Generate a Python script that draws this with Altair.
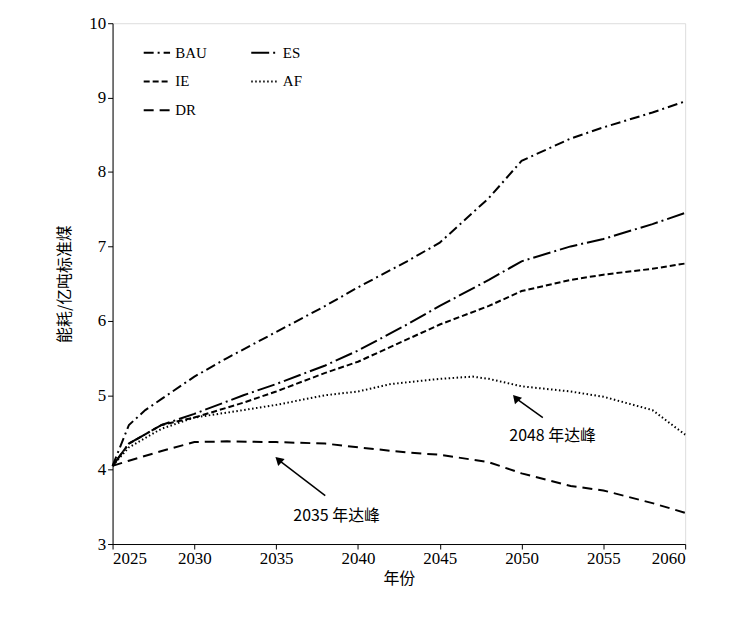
import altair as alt
import pandas as pd

bau_x=[2025,2026,2027,2028,2030,2032,2035,2038,2040,2043,2045,2048,2050,2053,2055,2058,2060]
bau_y=[4.05,4.6,4.8,4.95,5.25,5.5,5.85,6.2,6.45,6.8,7.05,7.65,8.15,8.45,8.6,8.8,8.95]
es_x=[2025,2026,2028,2030,2033,2035,2038,2040,2043,2045,2048,2050,2053,2055,2058,2060]
es_y=[4.05,4.35,4.6,4.75,5.0,5.15,5.4,5.6,5.95,6.2,6.55,6.8,7.0,7.1,7.3,7.45]
ie_x=[2025,2026,2028,2030,2033,2035,2038,2040,2043,2045,2048,2050,2053,2055,2058,2060]
ie_y=[4.05,4.35,4.6,4.7,4.9,5.05,5.3,5.45,5.75,5.95,6.2,6.4,6.55,6.62,6.7,6.77]
af_x=[2025,2026,2028,2030,2033,2035,2038,2040,2042,2045,2047,2048,2050,2053,2055,2058,2060]
af_y=[4.05,4.3,4.55,4.7,4.8,4.87,5.0,5.05,5.15,5.22,5.25,5.22,5.12,5.05,4.98,4.8,4.47]
dr_x=[2025,2026,2028,2030,2032,2035,2038,2040,2043,2045,2048,2050,2053,2055,2058,2060]
dr_y=[4.05,4.12,4.25,4.37,4.38,4.37,4.35,4.3,4.23,4.2,4.1,3.95,3.78,3.72,3.55,3.42]
names=["BAU","ES","IE","AF","DR"]
dashes={"BAU":[10,4,2,4],"ES":[18,4,2,4],"IE":[6,3],"AF":[1.5,2.5],"DR":[10,6]}
legend_order=["BAU","IE","DR","ES","AF"]

rows=[]
for n,xs,ys in zip(names,[bau_x,es_x,ie_x,af_x,dr_x],[bau_y,es_y,ie_y,af_y,dr_y]):
    for x,y in zip(xs,ys):
        rows.append({"s":n,"x":x,"y":y})
df=pd.DataFrame(rows)

font="Liberation Serif"
xs=alt.Scale(domain=[2025,2060],nice=False)
ys=alt.Scale(domain=[3,10],nice=False)

lines=alt.Chart(df).mark_line(color="black",strokeWidth=2).encode(
    x=alt.X("x:Q",scale=xs,title="年份",axis=alt.Axis(values=list(range(2025,2061,5)),format="d",grid=False,domainColor="black",tickColor="black",labelFontSize=17,titleFontSize=16,labelColor="black",titleColor="black",titleFontWeight="normal",titleFont="Noto Sans CJK SC",labelFont=font)),
    y=alt.Y("y:Q",scale=ys,title="能耗/亿吨标准煤",axis=alt.Axis(values=list(range(3,11)),format="d",grid=False,domainColor="black",tickColor="black",labelFontSize=17,titleFontSize=16,labelColor="black",titleColor="black",titleFontWeight="normal",titleFont="Noto Sans CJK SC",labelFont=font,titlePadding=16)),
    strokeDash=alt.StrokeDash("s:N",scale=alt.Scale(domain=legend_order,range=[dashes[n] for n in legend_order]),
        legend=alt.Legend(title=None,orient="none",legendX=30,legendY=15,columns=2,columnPadding=40,symbolType="stroke",symbolSize=700,symbolStrokeWidth=2,symbolStrokeColor="black",labelFontSize=15,labelFont=font,labelColor="black",rowPadding=6)),
    detail="s:N")

arr=pd.DataFrame({"x":[2038.0,2051.3],"y":[3.65,4.7],"x2":[2035.2,2049.7],"y2":[4.12,4.95]})
rules=alt.Chart(arr).mark_rule(color="black",strokeWidth=1.5).encode(x="x:Q",y="y:Q",x2="x2:Q",y2="y2:Q")
tips=pd.DataFrame({"x":[2035.2,2049.7],"y":[4.12,4.95],"a":[313,318]})
heads=alt.Chart(tips).mark_point(shape="triangle",filled=True,color="black",size=90,opacity=1).encode(x="x:Q",y="y:Q",angle=alt.Angle("a:Q",scale=None))
lab=pd.DataFrame({"x":[2038.7,2051.9],"y":[3.38,4.45],"t":["2035 年达峰","2048 年达峰"]})
texts=alt.Chart(lab).mark_text(fontSize=16,font="Noto Sans CJK SC",color="black").encode(x="x:Q",y="y:Q",text="t:N")

chart=alt.layer(lines,rules,heads,texts).properties(width=575,height=523,autosize="none",padding={"left":105,"top":14,"right":40,"bottom":70}).configure_view(stroke=None).configure(background="white").configure_axis(labelFont=font)
chart.save("out.html", embed_options={"renderer": "svg", "actions": False})
